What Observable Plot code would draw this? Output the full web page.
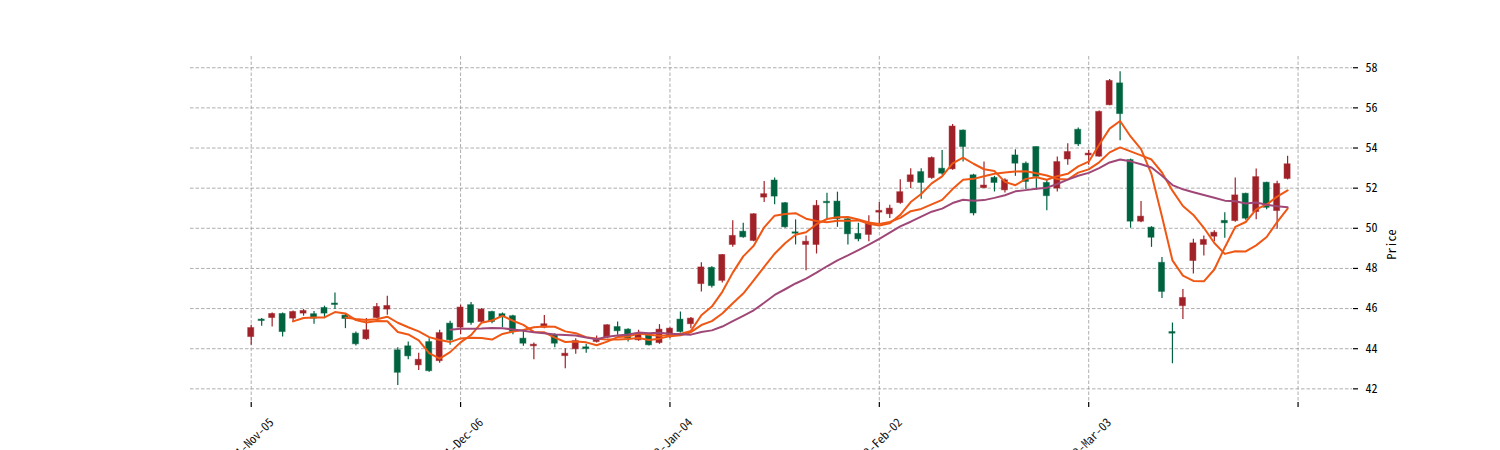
<!DOCTYPE html>
<html><head><meta charset="utf-8">
<script src="https://cdn.jsdelivr.net/npm/d3@7"></script>
<script src="https://cdn.jsdelivr.net/npm/@observablehq/plot@0.6"></script>
<style>body{margin:0;background:#fff}</style>
</head><body><div id="chart"></div>
<script>
const openP  = [44.58,45.45,45.53,45.73,45.50,45.75,45.72,46.03,46.25,45.65,44.75,44.47,45.53,45.95,43.92,44.12,43.17,44.33,43.38,45.25,
                45.05,46.17,45.33,45.83,45.72,45.62,44.50,44.12,45.05,44.67,43.63,43.97,44.07,44.33,44.55,45.08,44.95,44.42,44.72,44.28,
                44.58,45.45,45.22,47.22,48.03,47.38,49.17,49.83,49.37,51.53,52.38,51.25,49.80,49.17,49.17,51.32,51.33,50.45,49.72,49.67,
                50.78,50.70,51.26,52.30,52.80,52.50,52.97,52.94,54.87,52.64,52.00,52.51,51.89,53.63,53.22,54.05,52.26,51.98,53.43,54.91,
                53.63,53.57,56.13,57.22,53.40,50.33,50.03,48.28,44.83,46.12,48.37,49.17,49.58,50.37,50.36,51.72,50.81,52.27,50.86,52.46];
const highP  = [45.17,45.50,45.78,45.78,45.88,45.95,45.85,46.12,46.78,45.72,44.83,45.50,46.25,46.62,44.05,44.33,43.78,44.50,44.92,45.37,
                46.17,46.30,46.00,45.87,45.78,45.67,44.92,44.28,45.65,44.75,44.00,44.50,44.22,44.63,45.20,45.33,45.00,44.92,44.75,45.20,
                45.05,45.83,45.55,48.28,48.08,48.70,50.38,50.25,50.72,52.33,52.50,51.28,50.42,49.62,51.38,51.75,51.80,50.50,50.25,50.62,
                51.28,51.15,52.42,52.97,52.97,53.55,53.88,55.17,54.90,52.69,53.30,52.59,52.47,53.91,53.30,54.05,52.39,53.55,54.21,55.00,
                53.88,55.85,57.42,57.80,53.45,51.33,50.08,48.55,45.28,46.95,49.45,49.62,49.88,50.78,52.50,51.75,52.96,52.30,52.35,53.59];
const lowP   = [44.17,45.12,45.08,44.58,45.30,45.62,45.22,45.50,45.95,45.00,44.13,44.42,45.50,45.67,42.17,43.45,42.92,42.83,43.28,44.17,
                44.70,45.17,45.25,45.25,45.05,44.70,44.12,43.45,45.00,44.05,43.00,43.72,43.78,44.28,44.50,44.67,44.33,44.37,44.13,44.22,
                44.50,44.78,45.00,46.83,47.03,47.28,49.05,49.50,49.33,51.28,51.17,50.00,49.17,47.88,48.72,50.45,50.05,49.17,49.33,49.33,
                50.20,50.49,51.20,51.98,51.45,52.44,52.64,52.89,53.30,50.62,51.98,51.81,51.76,52.59,51.93,51.89,50.87,51.81,53.14,54.08,
                53.14,53.54,56.10,54.36,50.00,50.28,49.05,46.50,43.25,45.45,47.72,48.62,49.33,49.50,50.30,50.40,50.43,50.93,49.95,52.41];
const closeP = [45.03,45.38,45.73,44.83,45.83,45.88,45.50,45.75,46.18,45.48,44.22,44.92,46.08,46.13,42.80,43.62,43.45,42.88,44.78,44.42,
                46.05,45.28,45.95,45.33,45.58,44.83,44.25,44.20,45.22,44.25,43.75,44.38,43.98,44.50,45.17,44.87,44.50,44.75,44.17,44.95,
                45.00,44.83,45.50,48.05,47.12,48.67,49.62,49.55,50.70,51.70,51.58,50.05,49.73,49.33,51.12,51.25,50.45,49.70,49.45,50.25,
                50.87,50.98,51.80,52.64,52.26,53.50,52.72,55.07,54.05,50.74,52.13,52.26,52.39,53.22,52.31,52.56,51.60,53.30,53.80,54.18,
                53.72,55.80,57.34,55.69,50.33,50.58,49.53,46.83,44.75,46.53,49.25,49.42,49.78,50.25,51.64,50.48,52.55,51.02,52.21,53.19];

const xTickIdx = [0, 20, 40, 60, 80, 100];
const xTickLabels = ["2021-Nov-05", "2021-Dec-06", "2022-Jan-04", "2022-Feb-02", "2022-Mar-03", ""];
const yTicks = [42, 44, 46, 48, 50, 52, 54, 56, 58];
const mavPeriods = [5, 10, 20];
const mavColors = ["#ef5714", "#ef5714", "#9f4878"];
const UP = "#a02128", DOWN = "#006340";

const candles = openP.map((o, i) => ({i, o, h: highP[i], l: lowP[i], c: closeP[i], col: closeP[i] >= o ? UP : DOWN}));
function sma(n) {
  const out = [];
  for (let i = n - 1; i < closeP.length; i++) out.push({i, v: d3.mean(closeP.slice(i - n + 1, i + 1))});
  return out;
}
const grid = {stroke: "#999", strokeOpacity: 1, strokeDasharray: "3.5,2", strokeWidth: 0.8};
const FONT = "'Noto Sans Mono CJK SC', 'Noto Sans Mono CJK JP', 'DejaVu Sans Mono', monospace";

const plot = Plot.plot({
  width: 1500, height: 450,
  marginLeft: 190, marginRight: 148, marginTop: 56, marginBottom: 48,
  x: {domain: [-5.8, 105.2]},
  y: {domain: [41.32, 58.56]},
  color: {type: "identity"},
  style: {fontFamily: FONT, fontSize: "12px", color: "#000", background: "#fff"},
  marks: [
    Plot.gridX(xTickIdx, grid),
    Plot.gridY(yTicks, grid),
    Plot.axisX(xTickIdx, {tickSize: 5, tickFormat: () => "", label: null, strokeWidth: 1.2}),
    Plot.text(xTickIdx.map((t, k) => ({t, label: xTickLabels[k]})), {x: "t", text: "label", frameAnchor: "bottom", dy: 44, rotate: -45, textAnchor: "middle", fontSize: 12, fill: "#111"}),
    Plot.axisY(yTicks, {anchor: "right", tickSize: 5, tickPadding: 8, label: null, strokeWidth: 1.2, tickFormat: d => String(d)}),
    Plot.text(["Price"], {frameAnchor: "right", dx: 40, rotate: -90, fontSize: 12, fill: "#000"}),
    Plot.ruleX(candles, {x: "i", y1: "l", y2: "h", stroke: "col", strokeWidth: 1.2}),
    Plot.rect(candles, {x1: d => d.i - 0.29, x2: d => d.i + 0.29, y1: "o", y2: "c", fill: "col", stroke: "col", strokeWidth: 1, strokeOpacity: 0.45}),
    ...mavPeriods.map((n, k) => Plot.line(sma(n), {x: "i", y: "v", stroke: mavColors[k], strokeWidth: 2}))
  ]
});
document.getElementById("chart").appendChild(plot);
</script>
</body></html>
